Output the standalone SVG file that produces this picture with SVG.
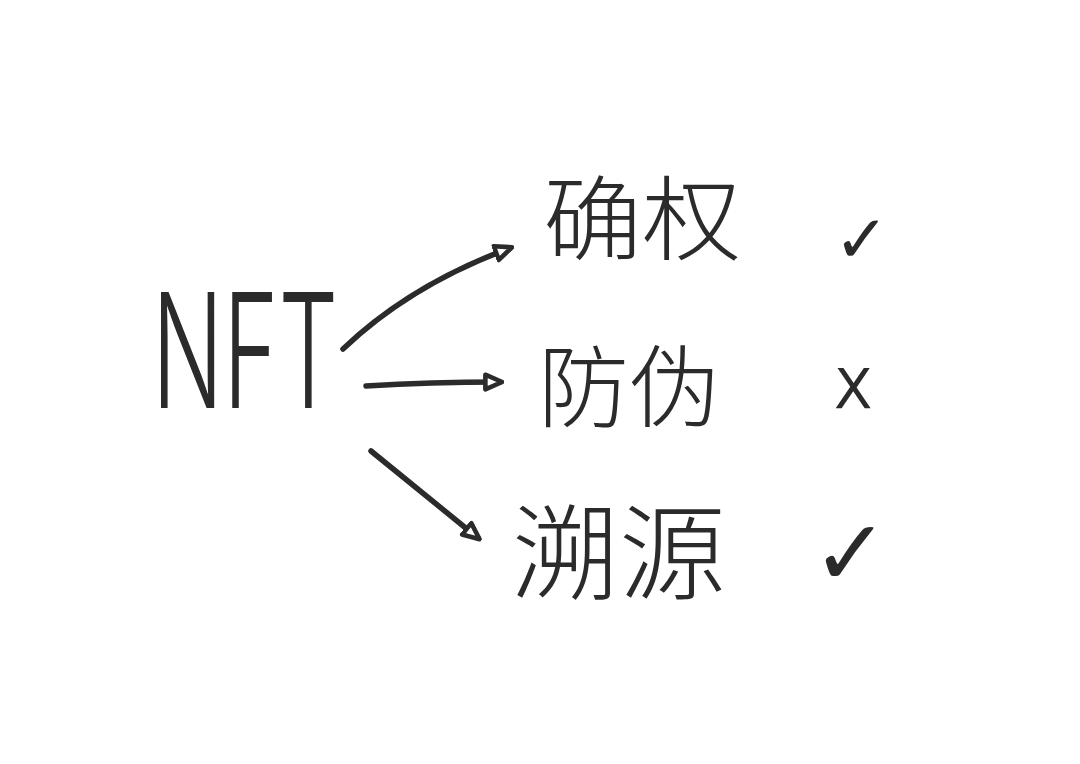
<svg xmlns="http://www.w3.org/2000/svg" width="1080" height="764" viewBox="0 0 1080 764">
<style>
.en{font-family:Inter,"Liberation Sans",sans-serif;font-weight:300;fill:#2b2b2b}
.cn{font-family:"Noto Sans CJK SC","Noto Sans CJK JP",sans-serif;font-weight:300;fill:#2b2b2b}
.mk{font-family:"DejaVu Sans","Liberation Sans",sans-serif;fill:#2b2b2b}
.ln{fill:none;stroke:#2b2b2b;stroke-width:5.5;stroke-linecap:round;stroke-linejoin:round}
</style>
<defs>
<marker id="ah" viewBox="0 0 10 10" refX="8" refY="5" markerWidth="3.8" markerHeight="3.8" orient="auto" markerUnits="strokeWidth">
<path d="M1,1.5 L9,5 L1,8.5 Z" fill="#ffffff" stroke="#2b2b2b" stroke-width="2.2" stroke-linejoin="round"/>
</marker>
</defs>
<rect width="1080" height="764" fill="#ffffff"/>
<g id="node-nft"><text class="en" x="152" y="408" font-size="160" textLength="186" lengthAdjust="spacingAndGlyphs">NFT</text></g>
<g id="node-quequan"><text class="cn" x="543" y="253" font-size="92" textLength="198" lengthAdjust="spacingAndGlyphs">确权</text></g>
<g id="node-fangwei"><text class="cn" x="538" y="420" font-size="90" textLength="182" lengthAdjust="spacingAndGlyphs">防伪</text></g>
<g id="node-suyuan"><text class="cn" x="512" y="592" font-size="104" textLength="214" lengthAdjust="spacingAndGlyphs">溯源</text></g>
<g id="mark-1"><text class="mk" x="834" y="262" font-size="66">✓</text></g>
<g id="mark-2"><text class="mk" x="834" y="408" font-size="56">X</text></g>
<g id="mark-3"><text class="mk" x="812" y="585" font-size="92">✓</text></g>
<g id="connectors">
<path class="ln" d="M343,349 Q410,285 510,248" marker-end="url(#ah)"/>
<path class="ln" d="M366,386 Q430,382 500,382" marker-end="url(#ah)"/>
<path class="ln" d="M371,451 L478,538" marker-end="url(#ah)"/>
</g>
</svg>
